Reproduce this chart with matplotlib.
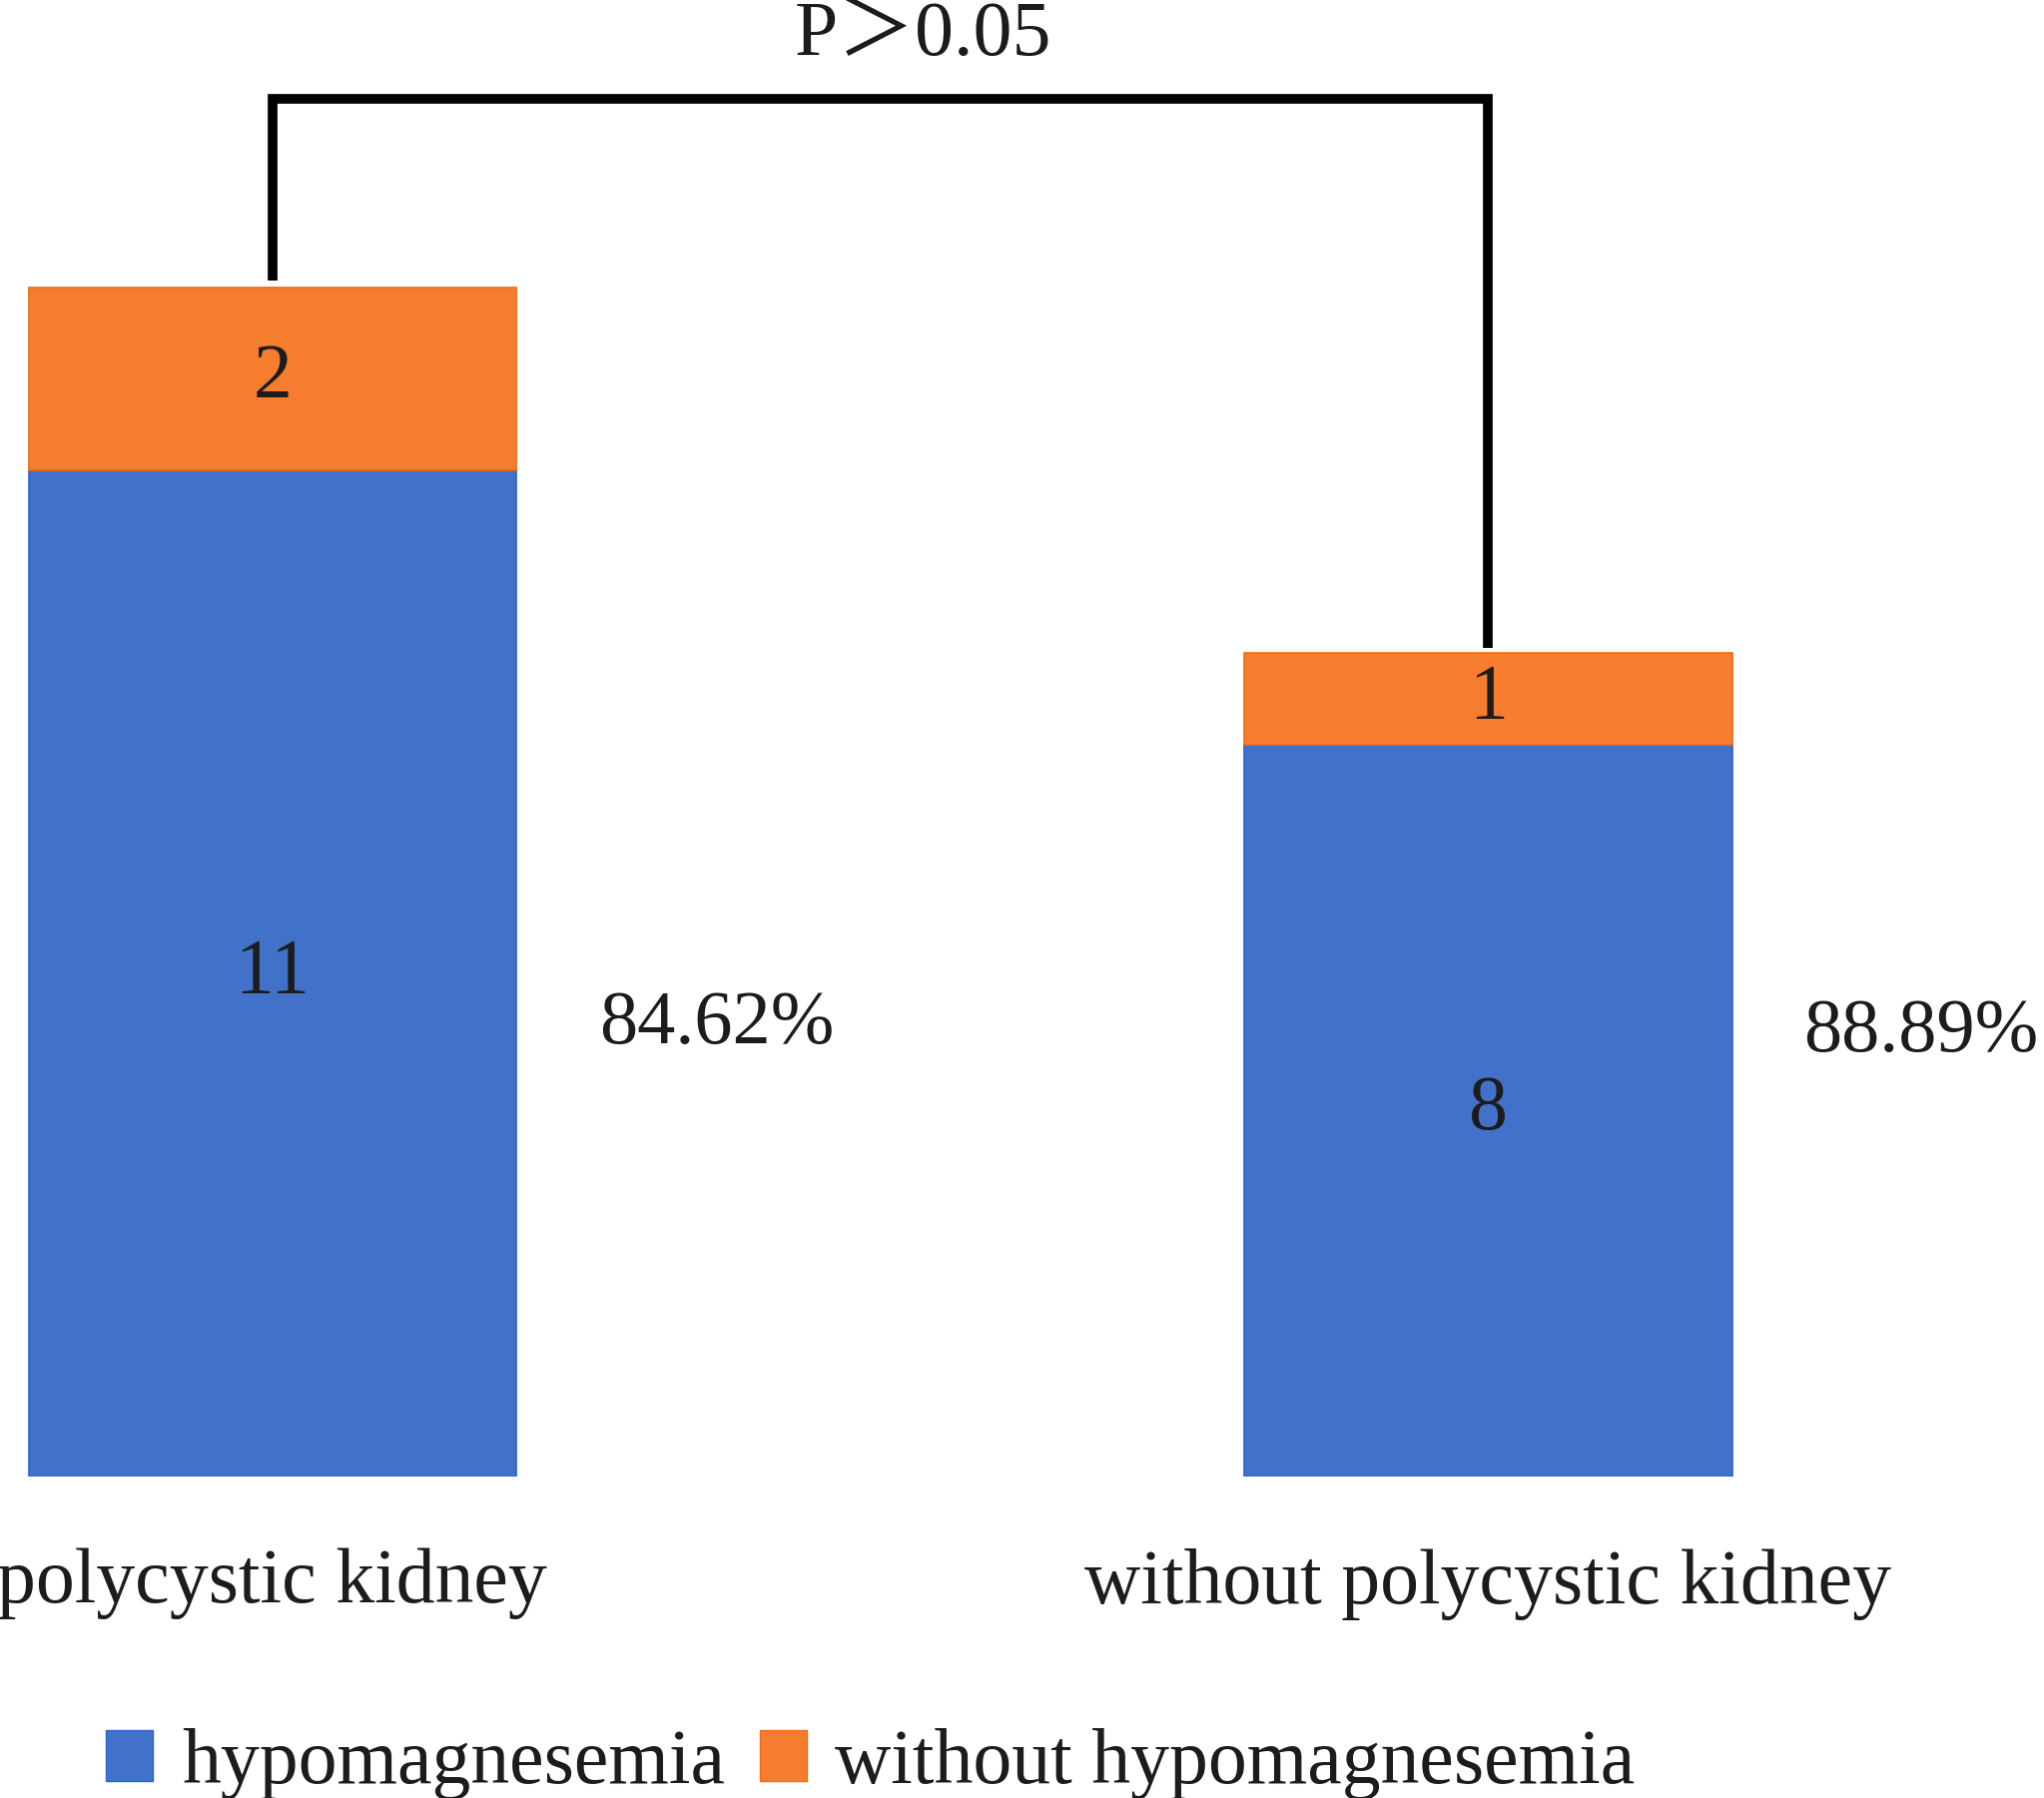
import matplotlib.pyplot as plt
from matplotlib.patches import Patch

plt.rcParams['font.family'] = ['Liberation Serif', 'Noto Sans CJK SC', 'DejaVu Sans']

groups = ['polycystic kidney', 'without polycystic kidney']
hypo = [11, 8]
no_hypo = [2, 1]
percent_labels = ['84.62%', '88.89%']
p_text = 'P＞0.05'

blue = '#4271C9'
orange = '#F57D2D'
text_color = '#1c1c1c'
fs = 56

fig = plt.figure(figsize=(20.47, 18.01), dpi=100)
ax = fig.add_axes([0, 0.179, 1, 0.821])

x = [0, 1]
b1 = ax.bar(x, hypo, width=0.401, color=blue, edgecolor='#2a62d6', linewidth=1.2)
b2 = ax.bar(x, no_hypo, width=0.401, bottom=hypo, color=orange, edgecolor='#f46a14', linewidth=1.2)
ax.bar_label(b1, label_type='center', fontsize=fs, color=text_color)
ax.bar_label(b2, label_type='center', fontsize=fs, color=text_color)

# percentages to the right of each bar
pct_x = [0.269, 1.259]
pct_y = [4.93, 4.85]
for xi, yi, lab in zip(pct_x, pct_y, percent_labels):
    ax.text(xi, yi, lab, fontsize=55, color=text_color, ha='left', va='center')

# significance bracket
tops = [h + n for h, n in zip(hypo, no_hypo)]
ax.plot([0, 0, 1, 1], [tops[0] + 0.07, 15.06, 15.06, tops[1] + 0.06],
        color='black', lw=7, solid_joinstyle='miter', solid_capstyle='butt', clip_on=False)
ax.text(0.535, 15.54, p_text, fontsize=fs, color=text_color, ha='center', va='baseline')

ax.set_xlim(-0.224, 1.457)
ax.set_ylim(0, 16.14)
ax.set_xticks(x, groups, fontsize=fs, color=text_color)
ax.tick_params(axis='x', length=0, pad=52)
ax.set_yticks([])
for s in ax.spines.values():
    s.set_visible(False)

handles = [Patch(facecolor=blue, edgecolor='#2a62d6', label='hypomagnesemia'),
           Patch(facecolor=orange, edgecolor='#f46a14', label='without hypomagnesemia')]
fig.legend(handles=handles, loc='center left', bbox_to_anchor=(0.052, 0.019),
           ncol=2, frameon=False, fontsize=fs, borderpad=0, borderaxespad=0,
           handlelength=0.6, handleheight=0.64, handletextpad=0.37, columnspacing=0.45,
           labelcolor=text_color)

fig.savefig('out.png', dpi=100)
